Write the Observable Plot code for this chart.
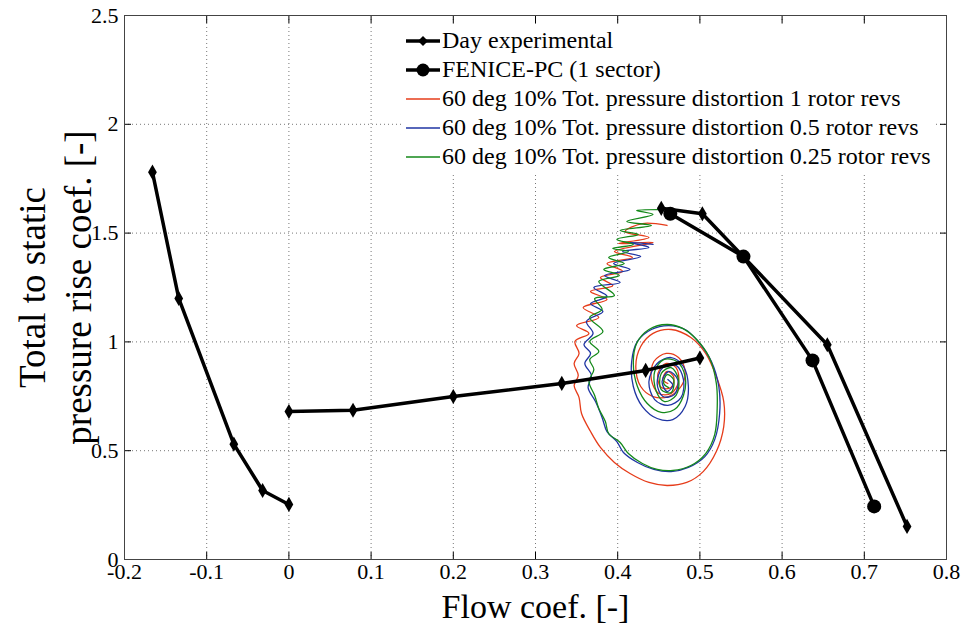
<!DOCTYPE html>
<html>
<head>
<meta charset="utf-8">
<script src="https://cdn.jsdelivr.net/npm/d3@7"></script>
<script src="https://cdn.jsdelivr.net/npm/@observablehq/plot@0.6"></script>
<style>
  html, body { margin: 0; padding: 0; background: #fff; }
  #chart { position: relative; width: 965px; height: 623px; font-family: "Liberation Serif", "Times New Roman", serif; }
  #chart svg text { font-family: "Liberation Serif", "Times New Roman", serif; }
  #legend { position: absolute; left: 402px; top: 24px; background: #fff; padding: 2px 6px 3px 2px; }
  #legend .row { display: flex; align-items: center; height: 29px; font-size: 24px; white-space: nowrap; color: #000; }
  #legend svg { display: block; margin-right: 1px; }
</style>
</head>
<body>
<div id="chart"></div>
<script>
// Axis ticks
const xTicks = [-0.2, -0.1, 0, 0.1, 0.2, 0.3, 0.4, 0.5, 0.6, 0.7, 0.8];
const xTickLabels = ["-0.2", "-0.1", "0", "0.1", "0.2", "0.3", "0.4", "0.5", "0.6", "0.7", "0.8"];
const yTicks = [0, 0.5, 1, 1.5, 2, 2.5];
const yTickLabels = ["0", "0.5", "1", "1.5", "2", "2.5"];

// Day experimental characteristic (three branches)
const dayFlow   = [-0.166, -0.134, -0.067, -0.032, 0.0,   0.0, 0.078, 0.2, 0.332, 0.434, 0.5,   0.453, 0.503, 0.655, 0.752];
const dayRise   = [1.78, 1.2, 0.53, 0.317, 0.253,   0.68, 0.686, 0.749, 0.809, 0.869, 0.926,   1.614, 1.589, 0.987, 0.152];
const dayBranch = ["reverse", "reverse", "reverse", "reverse", "reverse",
                   "stall", "stall", "stall", "stall", "stall", "stall",
                   "unstalled", "unstalled", "unstalled", "unstalled"];

// FENICE-PC (1 sector)
const fenFlow = [0.464, 0.553, 0.637, 0.712];
const fenRise = [1.589, 1.392, 0.915, 0.244];

// 60 deg 10% total pressure distortion, 1 rotor revs
const redFlow = [0.460, 0.430, 0.409, 0.438, 0.401, 0.443, 0.396, 0.418, 0.387, 0.406, 0.379, 0.394, 0.367, 0.387, 0.358, 0.377,
  0.350, 0.365, 0.348, 0.353, 0.347, 0.352, 0.347, 0.353, 0.356, 0.367, 0.379, 0.396, 0.415, 0.438, 0.460, 0.484,
  0.504, 0.520, 0.529, 0.529, 0.520, 0.507, 0.489, 0.465, 0.443, 0.428, 0.422, 0.428, 0.443, 0.462, 0.477, 0.482,
  0.474, 0.459, 0.444, 0.441, 0.450, 0.465, 0.474, 0.471, 0.459, 0.449, 0.453, 0.465, 0.468, 0.460, 0.455, 0.461];
const redRise = [1.535, 1.544, 1.507, 1.480, 1.452, 1.457, 1.415, 1.388, 1.360, 1.324, 1.296, 1.259, 1.232, 1.195, 1.158, 1.112,
  1.075, 1.039, 1.002, 0.947, 0.901, 0.846, 0.800, 0.744, 0.671, 0.588, 0.515, 0.446, 0.395, 0.354, 0.340, 0.354,
  0.404, 0.496, 0.611, 0.726, 0.841, 0.947, 1.020, 1.057, 1.039, 0.979, 0.887, 0.795, 0.749, 0.749, 0.795, 0.864,
  0.928, 0.947, 0.910, 0.827, 0.763, 0.763, 0.818, 0.882, 0.901, 0.855, 0.790, 0.790, 0.841, 0.864, 0.827, 0.809];

// 60 deg 10% total pressure distortion, 0.5 rotor revs
const blueFlow = [0.443, 0.415, 0.438, 0.406, 0.428, 0.395, 0.415, 0.384, 0.403, 0.371, 0.387, 0.367, 0.382, 0.362, 0.370, 0.359,
  0.367, 0.360, 0.368, 0.364, 0.373, 0.381, 0.387, 0.399, 0.407, 0.424, 0.444, 0.465, 0.486, 0.506, 0.518, 0.524,
  0.523, 0.514, 0.498, 0.482, 0.462, 0.441, 0.424, 0.417, 0.419, 0.430, 0.448, 0.467, 0.482, 0.486, 0.480, 0.465,
  0.448, 0.438, 0.445, 0.461, 0.477, 0.480, 0.471, 0.455, 0.448, 0.455, 0.469, 0.473, 0.462, 0.454, 0.460, 0.467, 0.461];
const blueRise = [1.448, 1.457, 1.434, 1.415, 1.392, 1.360, 1.333, 1.305, 1.273, 1.250, 1.209, 1.176, 1.140, 1.094, 1.039, 0.988,
  0.947, 0.901, 0.846, 0.790, 0.726, 0.653, 0.588, 0.542, 0.492, 0.446, 0.414, 0.404, 0.423, 0.473, 0.551, 0.671,
  0.795, 0.910, 1.002, 1.057, 1.075, 1.057, 1.002, 0.910, 0.795, 0.703, 0.648, 0.643, 0.703, 0.795, 0.887, 0.928,
  0.901, 0.818, 0.735, 0.708, 0.744, 0.827, 0.892, 0.882, 0.809, 0.749, 0.758, 0.827, 0.864, 0.818, 0.772, 0.800, 0.827];

// 60 deg 10% total pressure distortion, 0.25 rotor revs
const greenFlow = [0.462, 0.423, 0.443, 0.411, 0.441, 0.403, 0.425, 0.399, 0.419, 0.394, 0.413, 0.389, 0.408, 0.383, 0.402, 0.377,
  0.396, 0.372, 0.381, 0.366, 0.382, 0.366, 0.377, 0.366, 0.371, 0.365, 0.372, 0.377, 0.385, 0.389, 0.403, 0.413,
  0.430, 0.448, 0.467, 0.489, 0.507, 0.518, 0.521, 0.520, 0.512, 0.496, 0.479, 0.460, 0.438, 0.423, 0.419, 0.424,
  0.436, 0.453, 0.469, 0.480, 0.482, 0.472, 0.456, 0.445, 0.447, 0.457, 0.471, 0.474, 0.465, 0.453, 0.453, 0.465,
  0.468, 0.460, 0.456, 0.462];
const greenRise = [1.608, 1.604, 1.585, 1.553, 1.535, 1.512, 1.494, 1.471, 1.448, 1.429, 1.415, 1.388, 1.360, 1.333, 1.305, 1.278,
  1.213, 1.199, 1.149, 1.112, 1.048, 1.002, 0.956, 0.919, 0.873, 0.818, 0.754, 0.694, 0.634, 0.579, 0.538, 0.487,
  0.441, 0.414, 0.409, 0.432, 0.487, 0.574, 0.689, 0.809, 0.924, 1.011, 1.062, 1.080, 1.057, 0.993, 0.901, 0.795,
  0.717, 0.676, 0.689, 0.754, 0.841, 0.910, 0.919, 0.864, 0.772, 0.726, 0.754, 0.827, 0.882, 0.855, 0.781, 0.767,
  0.827, 0.850, 0.809, 0.790];

// Legend entries
const legendLabels = [
  "Day experimental",
  "FENICE-PC (1 sector)",
  "60 deg 10% Tot. pressure distortion 1 rotor revs",
  "60 deg 10% Tot. pressure distortion 0.5 rotor revs",
  "60 deg 10% Tot. pressure distortion 0.25 rotor revs"
];
const seriesColors = ["#000000", "#000000", "#e63c1a", "#1f35a3", "#14891a"];
const legendMarkers = ["diamond", "circle", null, null, null];

const serif = "Liberation Serif";

const toRows = (xs, ys, extra = {}) => xs.map((x, i) => ({x, y: ys[i], ...Object.fromEntries(Object.entries(extra).map(([k, v]) => [k, v[i]]))}));
const day = toRows(dayFlow, dayRise, {branch: dayBranch});
const fen = toRows(fenFlow, fenRise);
const red = toRows(redFlow, redRise);
const blue = toRows(blueFlow, blueRise);
const green = toRows(greenFlow, greenRise);

const fmtX = d => xTickLabels[xTicks.indexOf(d)];
const fmtY = d => yTickLabels[yTicks.indexOf(d)];
const blank = () => "";

const plot = Plot.plot({
  width: 965,
  height: 623,
  marginLeft: 124,
  marginRight: 19,
  marginTop: 15,
  marginBottom: 64,
  style: {fontFamily: "'Liberation Serif', 'Times New Roman', serif", fontSize: "22px", background: "#fff", color: "#000", overflow: "visible"},
  x: {domain: [-0.2, 0.8]},
  y: {domain: [0, 2.5]},
  marks: [
    Plot.gridX(xTicks, {stroke: "#777", strokeOpacity: 1, strokeWidth: 1, strokeDasharray: "1,3"}),
    Plot.gridY(yTicks, {stroke: "#777", strokeOpacity: 1, strokeWidth: 1, strokeDasharray: "1,3"}),
    Plot.axisX(xTicks, {anchor: "bottom", tickSize: 0, tickPadding: 4, tickFormat: fmtX, label: null, fontSize: 22, fontFamily: serif, fontVariant: "normal"}),
    Plot.axisX(xTicks, {anchor: "bottom", tickSize: -7, tickFormat: blank, label: null}),
    Plot.axisX(xTicks, {anchor: "top", tickSize: -7, tickFormat: blank, label: null}),
    Plot.axisY(yTicks, {anchor: "left", tickSize: 0, tickPadding: 6, tickFormat: fmtY, label: null, fontSize: 22, fontFamily: serif, fontVariant: "normal"}),
    Plot.axisY(yTicks, {anchor: "left", tickSize: -7, tickFormat: blank, label: null}),
    Plot.axisY(yTicks, {anchor: "right", tickSize: -7, tickFormat: blank, label: null}),
    Plot.line(red, {x: "x", y: "y", stroke: seriesColors[2], strokeWidth: 1.3, curve: "catmull-rom"}),
    Plot.line(blue, {x: "x", y: "y", stroke: seriesColors[3], strokeWidth: 1.3, curve: "catmull-rom"}),
    Plot.line(green, {x: "x", y: "y", stroke: seriesColors[4], strokeWidth: 1.3, curve: "catmull-rom"}),
    Plot.line(day, {x: "x", y: "y", z: "branch", stroke: "#000", strokeWidth: 3.5}),
    Plot.dot(day, {x: "x", y: "y", symbol: "diamond", r: 4.6, fill: "#000", stroke: "none"}),
    Plot.line(fen, {x: "x", y: "y", stroke: "#000", strokeWidth: 3.5}),
    Plot.dot(fen, {x: "x", y: "y", symbol: "circle", r: 7, fill: "#000", stroke: "none"}),
    Plot.frame({stroke: "#444", strokeWidth: 1}),
    Plot.text(["Flow coef. [-]"], {frameAnchor: "bottom", dy: 58, fontSize: 34, fontFamily: serif, fill: "#000"}),
    Plot.text(["Total to static\npressure rise coef. [-]"], {frameAnchor: "left", dx: -71, rotate: -90, fontSize: 37, fontFamily: serif, lineHeight: 1.22, textAnchor: "middle", fill: "#000"})
  ]
});

const chart = document.getElementById("chart");
chart.appendChild(plot);

// Legend drawn over the upper right of the axes
const legend = d3.select(chart).append("div").attr("id", "legend");
legendLabels.forEach((label, i) => {
  const row = legend.append("div").attr("class", "row");
  const svg = row.append("svg").attr("width", 37).attr("height", 20);
  svg.append("line").attr("x1", 2).attr("x2", 36).attr("y1", 10).attr("y2", 10)
    .attr("stroke", seriesColors[i]).attr("stroke-width", legendMarkers[i] ? 3.5 : 1.3);
  if (legendMarkers[i] === "diamond") {
    svg.append("path").attr("d", "M19,5 L24,10 L19,15 L14,10 Z").attr("fill", "#000");
  } else if (legendMarkers[i] === "circle") {
    svg.append("circle").attr("cx", 19).attr("cy", 10).attr("r", 6.5).attr("fill", "#000");
  }
  row.append("span").text(label);
});
</script>
</body>
</html>
